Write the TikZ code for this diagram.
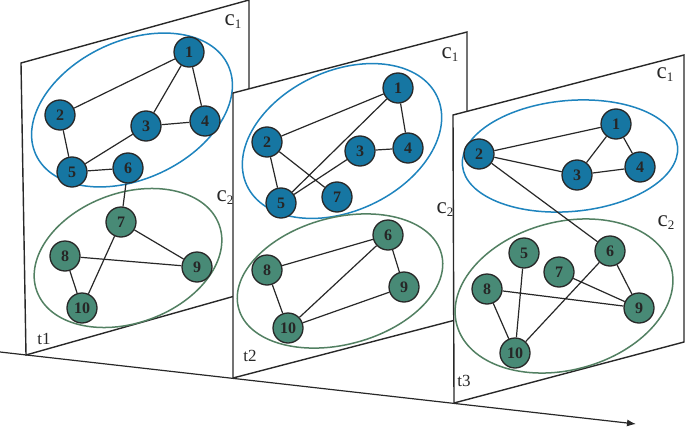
\documentclass[tikz,border=0pt]{standalone}
\usepackage{fontspec}
\setmainfont{Liberation Serif}
\usetikzlibrary{arrows.meta}
\definecolor{bfill}{RGB}{22,118,162}
\definecolor{gfill}{RGB}{72,138,118}
\definecolor{bline}{RGB}{30,132,190}
\definecolor{gline}{RGB}{82,128,98}
\definecolor{ink}{RGB}{40,40,40}
\tikzset{
  panel/.style={draw=ink, line width=1.4pt, fill=white, line join=miter},
  bnode/.style={circle, draw=ink, line width=1.3pt, fill=bfill, minimum size=30pt, inner sep=0pt, font=\fontsize{16}{16}\selectfont\bfseries, text=black!85},
  gnode/.style={circle, draw=ink, line width=1.3pt, fill=gfill, minimum size=30pt, inner sep=0pt, font=\fontsize{16}{16}\selectfont\bfseries, text=black!85},
  edge/.style={draw=ink, line width=1.2pt},
  bell/.style={draw=bline, line width=1.5pt},
  gell/.style={draw=gline, line width=1.5pt},
  clab/.style={font=\fontsize{23}{23}\selectfont, text=ink, inner sep=0pt},
  tlab/.style={font=\fontsize{17}{17}\selectfont, text=ink, inner sep=0pt},
}
\newcommand{\cl}[1]{c\raisebox{-3pt}{\fontsize{13}{13}\selectfont #1}}
\begin{document}
\begin{tikzpicture}[x=1pt,y=1pt]
\useasboundingbox (0,0) rectangle (685,-428);
% time axis
\coordinate (ax0) at (0,-352);
\coordinate (ax1) at (636,-424);
\draw[ink, line width=1.2pt, -{Latex[length=9pt,width=7pt]}] (ax0) -- (ax1);

% ---------------- panel 1
\draw[panel] (21,-63) -- (249,0) -- (249,-292) -- (26,-355) -- cycle;
\draw[bell, rotate around={25:(132,-110)}] (132,-110) ellipse [x radius=106, y radius=69];
\draw[gell, rotate around={20:(128,-258)}] (128,-258) ellipse [x radius=97, y radius=65];
\node[bnode] (a1) at (189,-52) {1};
\node[bnode] (a2) at (60,-115) {2};
\node[bnode] (a3) at (146,-126) {3};
\node[bnode] (a4) at (205,-121) {4};
\node[bnode] (a5) at (72,-172) {5};
\node[bnode] (a6) at (128,-168) {6};
\node[gnode] (a7) at (121,-222) {7};
\node[gnode] (a8) at (65,-256) {8};
\node[gnode] (a9) at (197,-267) {9};
\node[gnode] (a10) at (82,-308) {10};
\draw[edge] (a1)--(a2) (a1)--(a3) (a1)--(a4) (a3)--(a4) (a2)--(a5) (a3)--(a5) (a5)--(a6) (a6)--(a7)
  (a7)--(a10) (a7)--(a9) (a8)--(a9) (a8)--(a10);
\node[clab] (c11) at (233,-22) {\cl{1}};
\node[clab] (c12) at (225,-198) {\cl{2}};
\node[tlab] (t1) at (44,-339) {t1};

% ---------------- panel 2
\draw[panel] (233,-93) -- (467,-32) -- (467,-317) -- (233,-378) -- cycle;
\draw[bell, rotate around={25:(342,-141)}] (342,-141) ellipse [x radius=105, y radius=70];
\draw[gell, rotate around={15:(340,-281)}] (340,-281) ellipse [x radius=105, y radius=63.5];
\node[bnode] (b1) at (398,-88) {1};
\node[bnode] (b2) at (267,-142) {2};
\node[bnode] (b3) at (360,-151) {3};
\node[bnode] (b4) at (408,-148) {4};
\node[bnode] (b5) at (281,-203) {5};
\node[bnode] (b7) at (337,-197) {7};
\node[gnode] (b6) at (388,-235) {6};
\node[gnode] (b8) at (267,-270) {8};
\node[gnode] (b9) at (404,-287) {9};
\node[gnode] (b10) at (288,-328) {10};
\draw[edge] (b1)--(b2) (b1)--(b4) (b1)--(b5) (b2)--(b5) (b2)--(b7) (b3)--(b5) (b3)--(b4)
  (b6)--(b8) (b6)--(b10) (b6)--(b9) (b8)--(b10) (b10)--(b9);
\node[clab] (c21) at (450,-55) {\cl{1}};
\node[clab] (c22) at (445,-210) {\cl{2}};
\node[tlab] (t2) at (250,-356) {t2};

% ---------------- panel 3
\draw[panel] (453,-115) -- (684,-55) -- (684,-342) -- (454,-403) -- cycle;
\draw[bell, rotate around={5:(570,-156)}] (570,-156) ellipse [x radius=108, y radius=55.5];
\draw[gell, rotate around={15:(564,-296)}] (564,-296) ellipse [x radius=111, y radius=74];
\node[bnode] (d1) at (616,-124) {1};
\node[bnode] (d2) at (479,-154) {2};
\node[bnode] (d3) at (577,-175) {3};
\node[bnode] (d4) at (640,-167) {4};
\node[gnode] (d5) at (524,-253) {5};
\node[gnode] (d6) at (610,-251) {6};
\node[gnode] (d7) at (559,-272) {7};
\node[gnode] (d8) at (487,-289) {8};
\node[gnode] (d9) at (639,-308) {9};
\node[gnode] (d10) at (515,-353) {10};
\draw[edge] (d1)--(d2) (d1)--(d3) (d1)--(d4) (d2)--(d3) (d3)--(d4) (d2)--(d6)
  (d5)--(d10) (d8)--(d10) (d6)--(d10) (d8)--(d9) (d7)--(d9) (d6)--(d9);
\node[clab] (c31) at (665,-75) {\cl{1}};
\node[clab] (c32) at (666,-223) {\cl{2}};
\node[tlab] (t3) at (464,-381) {t3};
\end{tikzpicture}
\end{document}
